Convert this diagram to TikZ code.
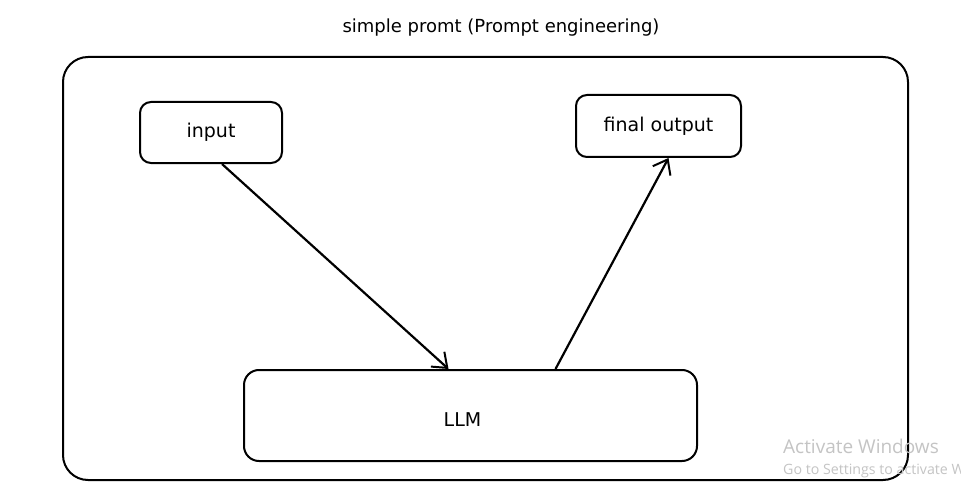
\documentclass[tikz,border=0pt]{standalone}
\usepackage{fontspec}
\setmainfont{DejaVu Sans}
\newfontfamily\winfont{Open Sans}
\usetikzlibrary{arrows.meta}

\tikzset{
	box/.style={draw, line width=2pt, fill=white, inner sep=0pt, font=\fontsize{19}{21}\selectfont},
	flow/.style={line width=2.2pt, -{Straight Barb[length=13pt,width=20pt,line width=2pt]}},
	winmark/.style={anchor=base west, inner sep=0pt, text=black!23}
}

\begin{document}
\begin{tikzpicture}[x=1pt,y=-1pt]
		
		\useasboundingbox (0,0) rectangle (961,500);
		\fill [white] (0,0) rectangle (961,500);
		
		\node (title) at (501,28) {\fontsize{18}{20}\selectfont simple promt (Prompt engineering)};
		\draw [line width=2pt, rounded corners=25pt] (63,57) rectangle (908,480);
		
		\node [box, rounded corners=11pt, minimum width=142pt, minimum height=61pt] (input) at (211,132.5) {\raisebox{-2pt}{input}};
		\node [box, rounded corners=11pt, minimum width=165pt, minimum height=62pt] (final) at (658.5,126) {\raisebox{-2pt}{final output}};
		\node [box, rounded corners=15pt, minimum width=453pt, minimum height=91pt,
			label={[font=\fontsize{19}{21}\selectfont, xshift=-8pt, yshift=-4pt]center:LLM}] (llm) at (470.5,415.5) {};
		
		\draw [flow] ([xshift=11pt]input.south) -- ([xshift=-22pt]llm.north);
		\draw [flow] ([xshift=85pt]llm.north) -- ([xshift=10pt]final.south);
		
		\node [winmark, font=\winfont\fontsize{19}{21}\selectfont] (act) at (783,453) {Activate Windows};
		\node [winmark, font=\winfont\fontsize{14.2}{16}\selectfont] (go) at (783,474) {Go to Settings to activate W};
	\end{tikzpicture}
\end{document}
